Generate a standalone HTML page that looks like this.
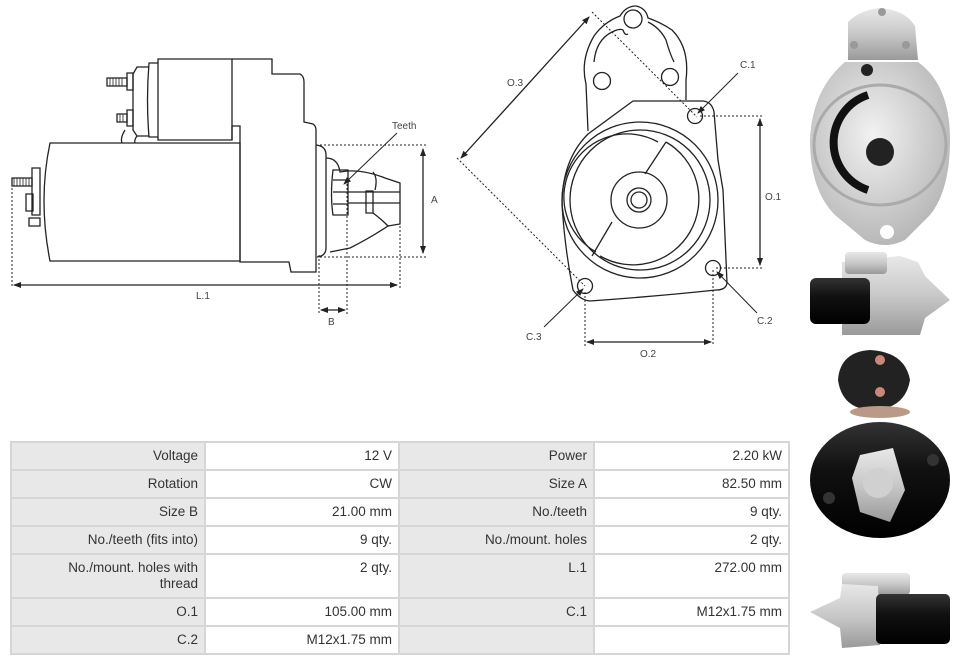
<!DOCTYPE html>
<html><head><meta charset="utf-8"><style>
html,body{margin:0;padding:0;background:#fff;width:959px;height:664px;overflow:hidden;position:relative;font-family:"Liberation Sans",sans-serif}
svg{position:absolute;left:0;top:0}
table{position:absolute;left:10px;top:441px;width:778px;table-layout:fixed;border-collapse:collapse;font-size:13.5px;color:#333}
td{border:2px solid #d6d6d6;padding:0 6px;text-align:right;vertical-align:middle;background:#fff;line-height:16px;overflow:hidden}
tr{height:28px}
td.l{background:#e8e8e8}
tr.t{height:44px}
tr.t td{vertical-align:top;padding-top:5px}
</style></head><body>
<svg width="959" height="664" viewBox="0 0 959 664">
<defs>
<marker id="a" markerWidth="8" markerHeight="8" refX="7" refY="4" orient="auto-start-reverse" markerUnits="userSpaceOnUse"><path d="M0,1 L8,4 L0,7z" fill="#222"/></marker>
<radialGradient id="sil" cx="45%" cy="40%" r="60%"><stop offset="0" stop-color="#f2f2f2"/><stop offset="1" stop-color="#b8b8b8"/></radialGradient>
<linearGradient id="blk" x1="0" y1="0" x2="0" y2="1"><stop offset="0" stop-color="#333"/><stop offset=".4" stop-color="#111"/><stop offset="1" stop-color="#000"/></linearGradient>
<linearGradient id="sv" x1="0" y1="0" x2="0" y2="1"><stop offset="0" stop-color="#e8e8e8"/><stop offset=".5" stop-color="#c8c8c8"/><stop offset="1" stop-color="#9a9a9a"/></linearGradient>
</defs>
<g fill="none" stroke="#222" stroke-width="1.3">
<path d="M50,143 L240,143 L240,261 L50,261 Q38,200 50,143z"/>
<path d="M158,59 L232,59 L232,140 L158,140z"/>
<path d="M158,63 L149,63 Q146,100 149,137 L158,137"/>
<path d="M149,67 L137,67 L133,74 L133,130 L137,136 L149,136"/>
<path d="M127,73 L133,73 L133,90 L127,90z"/>
<path d="M107,78 L127,78 L127,86 L107,86z"/>
<path d="M127,110 L133,110 L133,126 L127,126z"/>
<path d="M117,114 L127,114 L127,122 L117,122z"/>
<path d="M125,130 Q120,138 122,143 M137,136 Q134,140 135,143"/>
<path d="M232,59 L272,59 L272,74 L300,74 Q304,76 304,82 L304,122 L313,124 Q316,126 316,130 L316,272 L291,272 L289,262 L240,262 L240,126 L232,126 L232,140"/>
<path d="M316,145 Q326,146 326,155 L326,248 Q326,256 317,257"/>
<path d="M326,158 Q338,158 340,172 Q360,168 385,178 L400,183 L400,224 L388,226 Q370,238 350,248 L330,252"/>
<path d="M333,170 L348,170 L348,215 L333,215 Q330,195 333,170z"/>
<path d="M333,180 L348,180 M333,192 L348,192 M333,204 L348,204"/>
<path d="M348,192 L400,192 M348,203 L400,203"/>
<path d="M366,191 L373,191 L373,213 L366,213z"/>
<path d="M373,172 Q378,178 375,190 M373,213 Q380,218 388,226"/>
<path d="M12,178 L32,178 L32,186 L12,186z"/>
<path d="M32,168 L40,168 L40,215 L32,215z"/>
<path d="M26,194 L33,194 L33,211 L26,211z"/>
<path d="M29,218 L40,218 L40,226 L29,226z"/>
<path d="M14,178 v8 M17,178 v8 M20,178 v8 M23,178 v8 M26,178 v8 M29,178 v8 M110,78 v8 M113,78 v8 M116,78 v8 M119,78 v8 M122,78 v8 M120,114 v8 M123,114 v8" stroke-width=".8"/>
<g stroke-dasharray="2,2" stroke-width="1">
<path d="M320,145 L427,145 M320,257 L427,257 M12,188 L12,288 M400,226 L400,288 M319,255 L319,314 M347,180 L347,314"/>
</g>
<path d="M423,149 L423,253" marker-start="url(#a)" marker-end="url(#a)"/>
<path d="M14,285 L397,285" marker-start="url(#a)" marker-end="url(#a)"/>
<path d="M321,310 L345,310" marker-start="url(#a)" marker-end="url(#a)"/>
<path d="M397,133 L344,184" marker-end="url(#a)" stroke-width="1"/>
<path d="M588,131 L586,84 Q580,60 594,36 Q604,22 620,16 Q626,6 636,6 Q646,8 648,18 Q660,22 672,30 Q690,48 686,80 L686,100"/>
<path d="M594,62 Q596,40 612,32 Q620,28 623,30 Q625,36 628,34 M648,22 Q660,28 666,40 Q670,54 674,62"/>
<circle cx="633" cy="19" r="9"/><circle cx="602" cy="81" r="8.5"/><circle cx="670" cy="77" r="8.5"/>
<path d="M633,101 L703,101 Q712,102 714,112 L718,160 L723,190 L727,283 Q726,290 716,290 Q660,296 590,301 Q580,300 573,290 Q565,250 562,205 Q562,160 588,134 L633,101z"/>
<circle cx="640" cy="200" r="78"/>
<circle cx="640" cy="200" r="70"/>
<path d="M658,142 A58,58 0 0,0 596,252"/>
<path d="M666,142 L645,174 M612,222 L592,256"/>
<path d="M666,142 A58,58 0 0,1 600,256"/>
<circle cx="639" cy="200" r="28"/><circle cx="639" cy="200" r="12"/><circle cx="639" cy="200" r="8"/>
<circle cx="695" cy="116" r="7.5"/><circle cx="713" cy="268" r="7.5"/><circle cx="585" cy="286" r="7.5"/>
<g stroke-dasharray="2,2" stroke-width="1">
<path d="M592,12 L697,117 M457,158 L585,286 M700,116 L763,116 M716,268 L764,268 M585,292 L585,346 M713,270 L713,346"/>
</g>
<path d="M589,17 L461,158" marker-start="url(#a)" marker-end="url(#a)"/>
<path d="M760,119 L760,265" marker-start="url(#a)" marker-end="url(#a)"/>
<path d="M587,342 L711,342" marker-start="url(#a)" marker-end="url(#a)"/>
<path d="M738,73 L698,113" marker-end="url(#a)" stroke-width="1"/>
<path d="M757,313 L717,272" marker-end="url(#a)" stroke-width="1"/>
<path d="M544,327 L583,289" marker-end="url(#a)" stroke-width="1"/>
</g>
<g font-size="10" fill="#444" font-family="Liberation Sans,sans-serif">
<text x="392" y="129">Teeth</text>
<text x="431" y="203">A</text>
<text x="196" y="299">L.1</text>
<text x="328" y="325">B</text>
<text x="507" y="86">O.3</text>
<text x="740" y="68">C.1</text>
<text x="765" y="200">O.1</text>
<text x="757" y="324">C.2</text>
<text x="526" y="340">C.3</text>
<text x="640" y="357">O.2</text>
</g>
<g>
<path d="M848,22 Q860,10 880,8 Q905,10 915,26 L918,60 L848,60z" fill="url(#sv)"/>
<circle cx="882" cy="12" r="4" fill="#999"/><circle cx="854" cy="45" r="4" fill="#999"/><circle cx="906" cy="45" r="4" fill="#999"/>
<path d="M845,62 L918,62 Q950,85 950,140 Q950,190 930,215 L905,240 Q885,250 865,240 L835,215 Q810,190 810,140 Q812,90 845,62z" fill="url(#sil)"/>
<ellipse cx="880" cy="145" rx="66" ry="60" fill="none" stroke="#aaa" stroke-width="3"/>
<path d="M868,95 A50,50 0 0,0 868,190" fill="none" stroke="#111" stroke-width="8"/>
<circle cx="880" cy="152" r="14" fill="#222"/>
<circle cx="887" cy="232" r="7" fill="#fff"/><circle cx="867" cy="70" r="6" fill="#222"/>
<path d="M842,262 L900,256 L918,262 L925,276 L950,300 L925,318 L920,335 L842,335z" fill="url(#sv)"/>
<rect x="845" y="252" width="42" height="22" rx="4" fill="url(#sv)"/>
<rect x="810" y="278" width="60" height="46" rx="6" fill="url(#blk)"/>
<path d="M838,380 Q840,352 870,350 Q905,352 910,380 Q905,410 870,410 Q842,408 838,380z" fill="#222"/>
<circle cx="880" cy="360" r="5" fill="#c87"/><circle cx="880" cy="392" r="5" fill="#c87"/>
<ellipse cx="880" cy="480" rx="70" ry="58" fill="url(#blk)"/>
<ellipse cx="880" cy="412" rx="30" ry="6" fill="#b98"/>
<path d="M860,455 L893,448 L905,490 L890,522 L860,512 L852,478z" fill="url(#sv)"/>
<circle cx="878" cy="483" r="15" fill="#d0d0d0"/>
<circle cx="829" cy="498" r="6" fill="#333"/><circle cx="933" cy="460" r="6" fill="#333"/>
<rect x="842" y="573" width="68" height="22" rx="4" fill="url(#sv)"/>
<path d="M810,612 L840,598 L842,584 L878,586 L880,645 L842,648 L840,628z" fill="url(#sv)"/>
<rect x="876" y="594" width="74" height="50" rx="5" fill="url(#blk)"/>
</g>
</svg>
<table>
<colgroup><col style="width:194px"><col style="width:194px"><col style="width:195px"><col style="width:195px"></colgroup>
<tr><td class="l">Voltage</td><td>12 V</td><td class="l">Power</td><td>2.20 kW</td></tr>
<tr><td class="l">Rotation</td><td>CW</td><td class="l">Size A</td><td>82.50 mm</td></tr>
<tr><td class="l">Size B</td><td>21.00 mm</td><td class="l">No./teeth</td><td>9 qty.</td></tr>
<tr><td class="l">No./teeth (fits into)</td><td>9 qty.</td><td class="l">No./mount. holes</td><td>2 qty.</td></tr>
<tr class="t"><td class="l">No./mount. holes with<br>thread</td><td>2 qty.</td><td class="l">L.1</td><td>272.00 mm</td></tr>
<tr><td class="l">O.1</td><td>105.00 mm</td><td class="l">C.1</td><td>M12x1.75 mm</td></tr>
<tr><td class="l">C.2</td><td>M12x1.75 mm</td><td class="l"></td><td></td></tr>
</table>
</body></html>
